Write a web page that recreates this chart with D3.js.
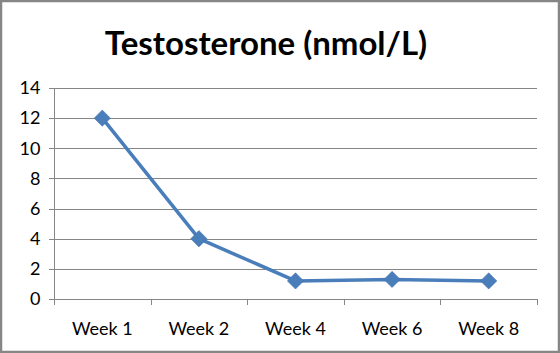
<!DOCTYPE html>
<html>
<head>
<meta charset="utf-8">
<script src="https://cdn.jsdelivr.net/npm/d3@7"></script>
<style>
  html, body { margin: 0; padding: 0; background: #fff; }
  svg { display: block; }
</style>
</head>
<body>
<div id="chart"></div>
<script>
// Data
var categories = ["Week 1", "Week 2", "Week 4", "Week 6", "Week 8"];
var values = [12, 4, 1.2, 1.3, 1.2];
var yTicks = [0, 2, 4, 6, 8, 10, 12, 14];
var title = "Testosterone (nmol/L)";

// Sizes
var width = 560, height = 353;
var plot = {left: 54, right: 537, top: 88, bottom: 299};
var font = "Lato, 'Open Sans', sans-serif";

var svg = d3.select("#chart").append("svg")
    .attr("width", width)
    .attr("height", height);

// Outer border
svg.append("rect")
    .attr("x", 1).attr("y", 1)
    .attr("width", width - 2).attr("height", height - 2)
    .attr("fill", "#fff")
    .attr("stroke", "#868686")
    .attr("stroke-width", 2.5);

// Title
svg.append("text")
    .attr("x", 266).attr("y", 55)
    .attr("text-anchor", "middle")
    .style("font", "bold 33px " + font)
    .attr("fill", "#000")
    .text(title);

// Scales
var x = d3.scaleBand().domain(categories).range([plot.left, plot.right]);
var y = d3.scaleLinear().domain([0, 14]).range([plot.bottom, plot.top]);

// Gridlines
svg.append("g")
    .selectAll("line")
    .data(yTicks)
    .join("line")
        .attr("x1", plot.left - 5).attr("x2", plot.right)
        .attr("y1", d => Math.round(y(d)) + 0.5)
        .attr("y2", d => Math.round(y(d)) + 0.5)
        .attr("stroke", "#868686")
        .attr("stroke-width", 1);

// Y axis
var yAxis = svg.append("g")
    .attr("transform", "translate(" + (plot.left + 0.5) + ",0)")
    .call(d3.axisLeft(y).tickValues(yTicks).tickSize(0).tickPadding(14));
yAxis.select(".domain").attr("stroke", "#868686")
    .attr("d", "M0," + plot.top + "V" + plot.bottom);
yAxis.selectAll("text")
    .style("font", "18px " + font)
    .attr("fill", "#000");

// X axis
var bounds = categories.map(c => x(c)).concat([plot.right]);
svg.append("g")
    .selectAll("line")
    .data(bounds)
    .join("line")
        .attr("x1", d => Math.round(d) + 0.5).attr("x2", d => Math.round(d) + 0.5)
        .attr("y1", plot.bottom).attr("y2", plot.bottom + 6)
        .attr("stroke", "#868686");

svg.append("g")
    .selectAll("text")
    .data(categories)
    .join("text")
        .attr("x", d => x(d) + x.bandwidth() / 2)
        .attr("y", 335)
        .attr("text-anchor", "middle")
        .style("font", "18px " + font)
        .attr("fill", "#000")
        .text(d => d);

// Line
var line = d3.line()
    .x((d, i) => x(categories[i]) + x.bandwidth() / 2)
    .y(d => y(d));

svg.append("path")
    .datum(values)
    .attr("d", line)
    .attr("fill", "none")
    .attr("stroke", "#4a7ebb")
    .attr("stroke-width", 3.5)
    .attr("stroke-linejoin", "round");

// Diamond markers
svg.append("g")
    .selectAll("path")
    .data(values)
    .join("path")
        .attr("transform", (d, i) => "translate(" + (x(categories[i]) + x.bandwidth() / 2) + "," + y(d) + ")")
        .attr("d", d3.symbol(d3.symbolDiamond2, 170))
        .attr("fill", "#4a7ebb")
        .attr("stroke", "#3f6fa8")
        .attr("stroke-width", 0.5);
</script>
</body>
</html>
